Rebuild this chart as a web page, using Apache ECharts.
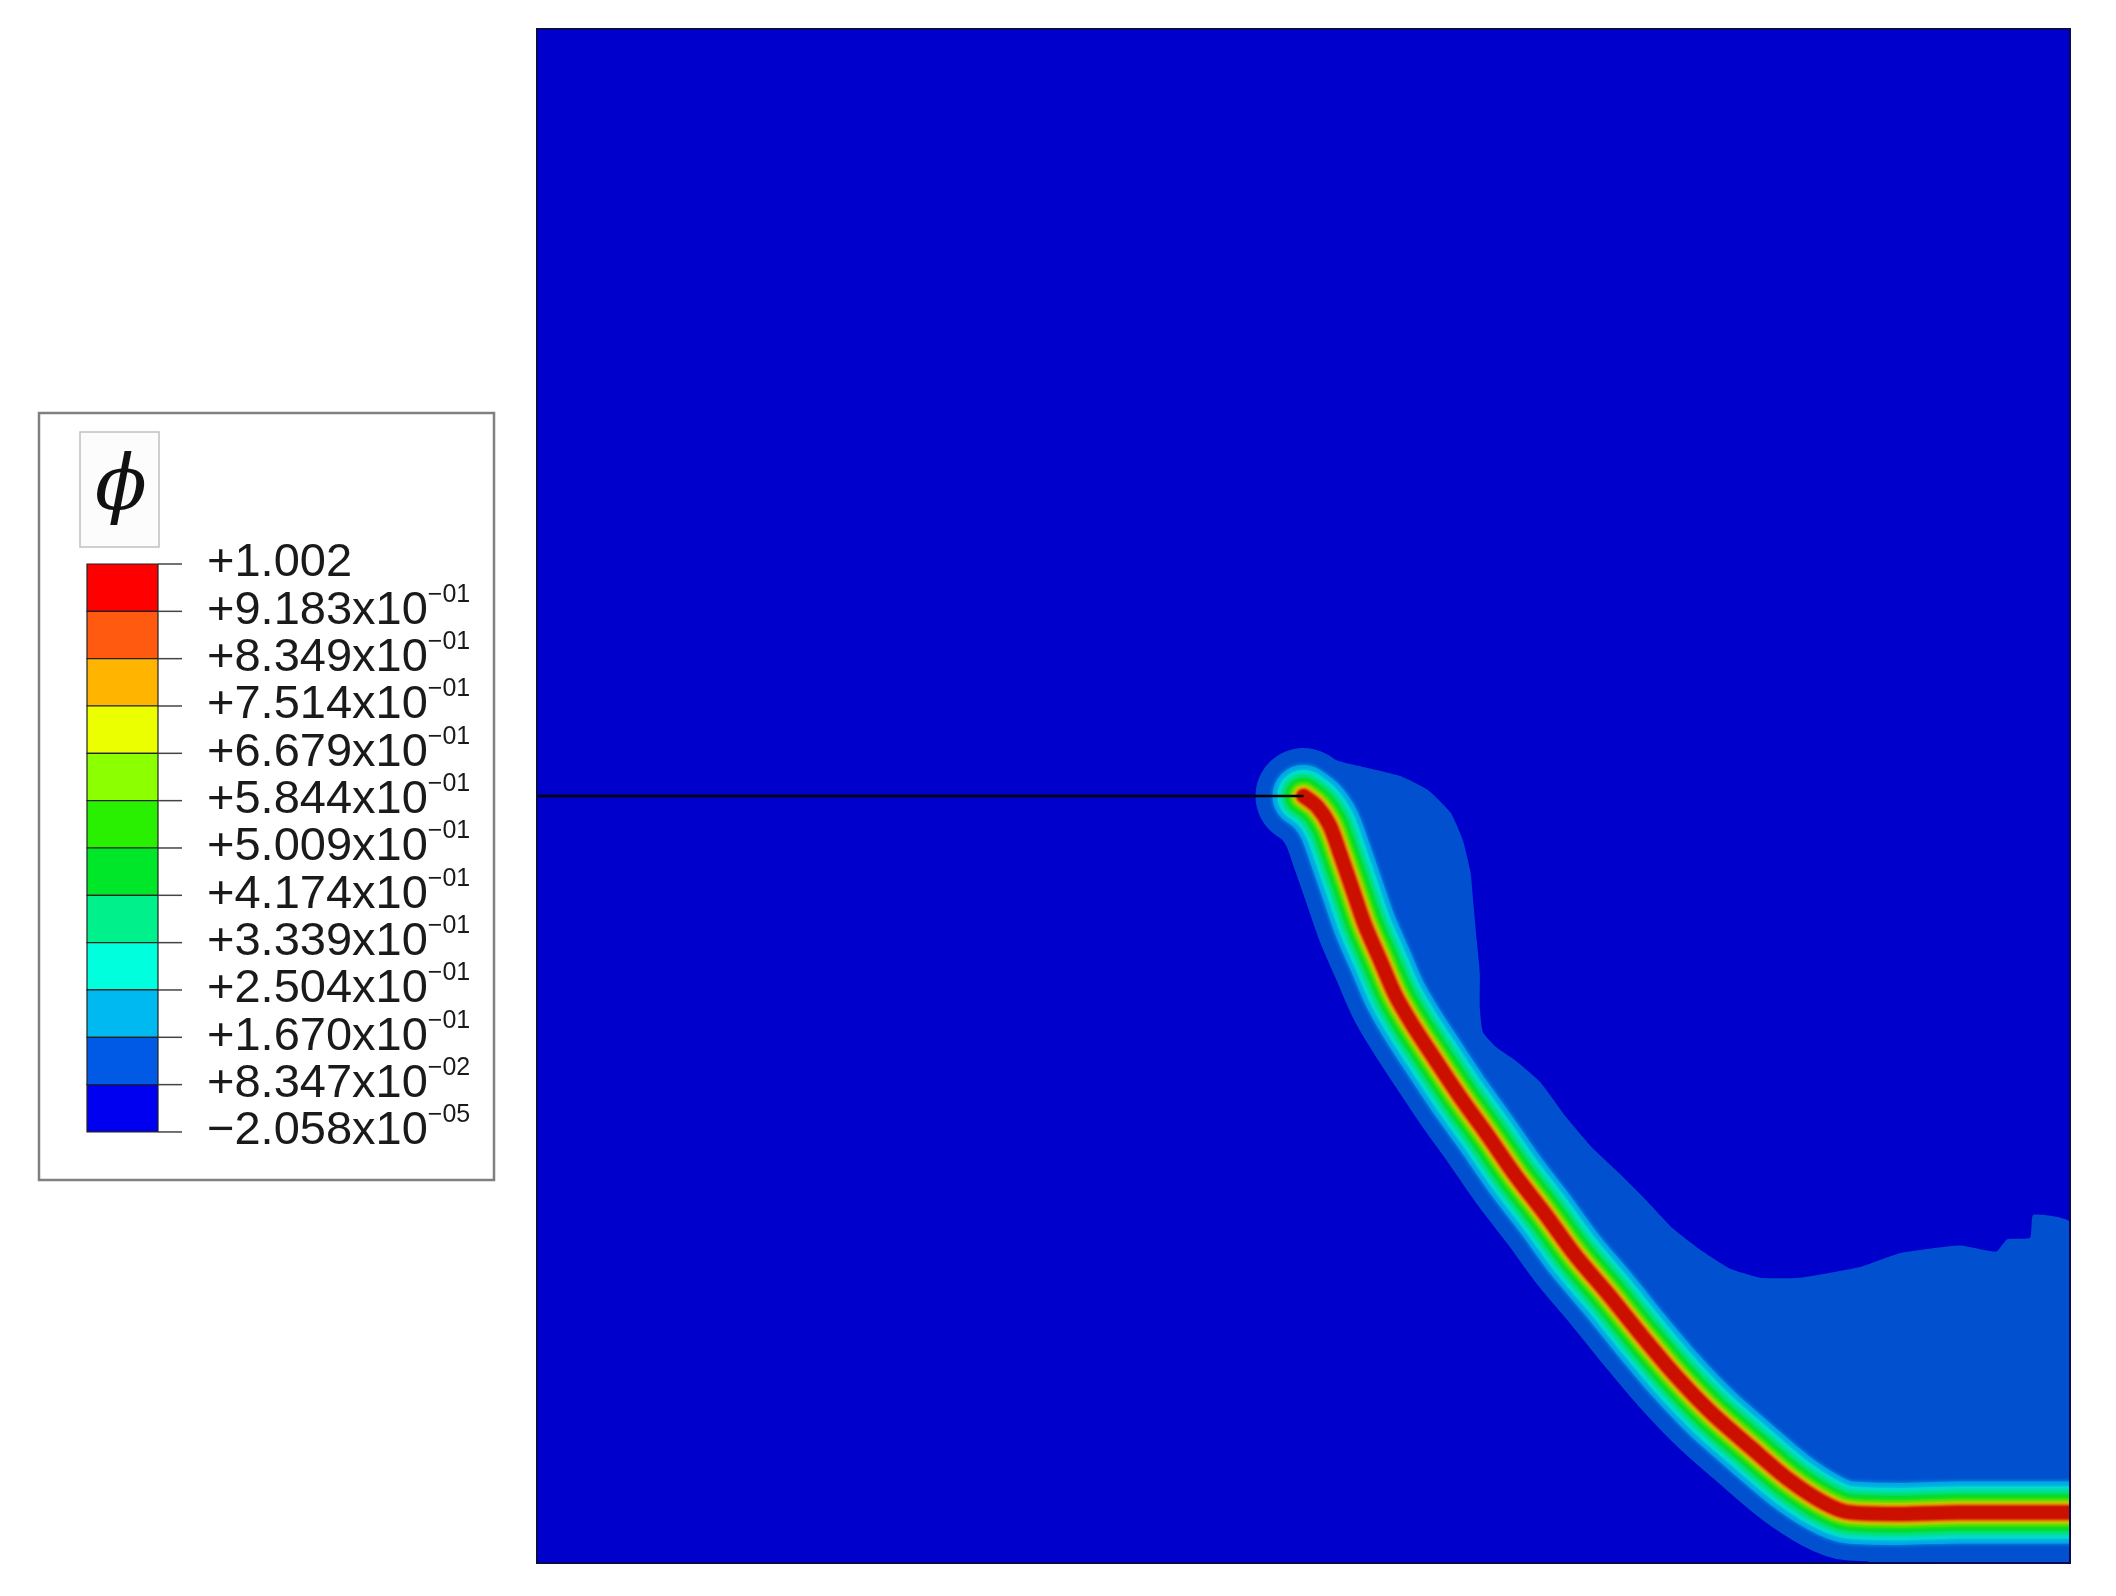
<!DOCTYPE html>
<html>
<head>
<meta charset="utf-8">
<script src="https://cdn.jsdelivr.net/npm/echarts@6/dist/echarts.min.js"></script>
<style>
html,body{margin:0;padding:0;background:#fff;}
#main_charts{width:2116px;height:1596px;}
</style>
</head>
<body>
<div id="main_charts"></div>
<script>
// crack centre line (specimen coords, 0..100)
var crackX = [50.0, 50.9, 51.7, 52.4, 53.2, 54.0, 55.0, 56.0, 57.1, 58.6, 60.2, 62.0, 63.8, 65.8, 67.7, 69.9, 72.0, 74.2, 76.6, 79.1, 81.7, 84.0, 85.6, 88.9, 92.8, 100];
var crackY = [50.0, 49.3, 48.1, 46.2, 43.9, 41.6, 39.3, 37.0, 35.1, 32.8, 30.4, 27.9, 25.3, 22.7, 20.1, 17.5, 14.9, 12.3, 9.8, 7.6, 5.4, 3.9, 3.3, 3.2, 3.3, 3.3];
// initial notch
var notchX = [0, 50.0];
var notchY = [50.0, 50.0];
// outline of the low-damage zone (phi ~ 0.08) above the crack
var zoneX = [49.8, 51.5, 53.0, 56.3, 58.1, 59.6, 60.4, 60.9, 61.1, 61.3, 61.5, 61.5, 61.7, 62.6, 63.9, 65.4, 67.1, 68.8, 70.6, 72.3, 74.1, 75.9, 77.8, 79.8, 82.4, 86.3, 88.9, 92.8, 95.2, 95.9, 97.4, 97.6, 100, 100, 87.0];
var zoneY = [52.9, 52.5, 52.1, 51.3, 50.4, 48.9, 47.1, 45.0, 42.8, 40.6, 38.5, 36.2, 34.6, 33.6, 32.7, 31.4, 29.1, 27.1, 25.4, 23.7, 21.8, 20.4, 19.2, 18.6, 18.6, 19.3, 20.2, 20.7, 20.3, 21.1, 21.2, 22.7, 22.2, 0, 0];
// colour bar
var legendMantissa = ['+1.002', '+9.183', '+8.349', '+7.514', '+6.679', '+5.844', '+5.009', '+4.174', '+3.339', '+2.504', '+1.670', '+8.347', '\u22122.058'];
var legendExponent = ['', '\u221201', '\u221201', '\u221201', '\u221201', '\u221201', '\u221201', '\u221201', '\u221201', '\u221201', '\u221201', '\u221202', '\u221205'];

// styles
var barColors = ['#FF0000', '#FF5A10', '#FFB400', '#EBFF00', '#8CFF00', '#28F000', '#00E628', '#00F08C', '#00FFDC', '#00B9F0', '#005AE6', '#0000F0'];
var plotColors = ['#CC1000', '#E05000', '#E6A000', '#DCE000', '#96E000', '#3CE000', '#00DC32', '#00E08C', '#00DCD2', '#00A6E6', '#0050D0', '#0000CC'];
var bandWidths = [12, 14, 16, 18, 22, 28, 36, 44, 52, 62, 96];

var myChart = echarts.init(document.getElementById('main_charts'));

var path = crackX.map(function (x, i) { return [x, crackY[i]]; });
var zone = zoneX.map(function (x, i) { return [x, zoneY[i]]; });
// close the zone back along the crack
for (var i = path.length - 1; i >= 0; i--) {
  if (path[i][0] <= 86) zone.push(path[i]);
}
var notch = notchX.map(function (x, i) { return [x, notchY[i]]; });

var series = [];
series.push({
  type: 'custom',
  silent: true,
  clip: true,
  z: 1,
  data: [[0, 0]],
  renderItem: function (params, api) {
    var pts = zone.map(function (p) { return api.coord(p); });
    return { type: 'polygon', shape: { points: pts, smooth: 0.15 }, style: { fill: plotColors[10] } };
  }
});
// bands, widest first
for (var k = bandWidths.length - 1; k >= 0; k--) {
  var col = plotColors[10 - (bandWidths.length - 1 - k)];
  series.push({
    type: 'line',
    data: path,
    smooth: 0.3,
    symbol: 'none',
    silent: true,
    clip: true,
    z: 2 + (bandWidths.length - k),
    lineStyle: { width: bandWidths[k], color: col, cap: 'round', join: 'round', shadowBlur: k < 10 ? 4 : 0, shadowColor: col }
  });
}
series.push({
  type: 'line',
  data: notch,
  symbol: 'none',
  silent: true,
  z: 30,
  lineStyle: { width: 2.5, color: '#000' }
});

// legend (drawn as graphic)
var gx = 87, gy = 564, gw = 71, gh = 47.33;
var graphics = [
  { type: 'rect', shape: { x: 39, y: 413, width: 455, height: 767 }, style: { fill: '#fff', stroke: '#808080', lineWidth: 2.5 } },
  { type: 'rect', shape: { x: 80, y: 432, width: 79, height: 115 }, style: { fill: '#fcfcfc', stroke: '#c0c0c0', lineWidth: 1.5 } },
  { type: 'text', x: 121, y: 489, style: { text: '\u03D5', font: 'italic 76px "DejaVu Serif"', fill: '#111', align: 'center', verticalAlign: 'middle' } },
  // keep the wide bands inside the specimen
  { type: 'rect', z: 100, shape: { x: 2071, y: 0, width: 60, height: 1596 }, style: { fill: '#fff' } },
  { type: 'rect', z: 100, shape: { x: 0, y: 1564, width: 2116, height: 40 }, style: { fill: '#fff' } },
  { type: 'rect', z: 101, shape: { x: 537, y: 29, width: 1533, height: 1534 }, style: { fill: 'none', stroke: '#0a0a50', lineWidth: 2 } }
];
for (var b = 0; b < barColors.length; b++) {
  graphics.push({ type: 'rect', shape: { x: gx, y: gy + b * gh, width: gw, height: gh }, style: { fill: barColors[b], stroke: '#222', lineWidth: 1.2 } });
}
for (var t = 0; t < legendMantissa.length; t++) {
  var ty = gy + t * gh;
  graphics.push({ type: 'line', shape: { x1: gx + gw, y1: ty, x2: gx + gw + 24, y2: ty }, style: { stroke: '#444', lineWidth: 1.5 } });
  var txt = legendExponent[t] ? '{m|' + legendMantissa[t] + 'x10}{e|' + legendExponent[t] + '}' : '{m|' + legendMantissa[t] + '}';
  graphics.push({
    type: 'text', x: 207, y: ty - 3,
    style: {
      text: txt, verticalAlign: 'middle', align: 'left',
      rich: {
        m: { fontSize: 47, fontFamily: 'Liberation Sans', fill: '#1a1a1a', lineHeight: 52, verticalAlign: 'bottom' },
        e: { fontSize: 25, fontFamily: 'Liberation Sans', fill: '#1a1a1a', lineHeight: 24, verticalAlign: 'top' }
      }
    }
  });
}

var option = {
  animation: false,
  backgroundColor: '#fff',
  grid: { left: 537, top: 29, width: 1533, height: 1534, show: true, backgroundColor: plotColors[11], borderColor: '#0a0a50', borderWidth: 2 },
  xAxis: { type: 'value', min: 0, max: 100, show: false },
  yAxis: { type: 'value', min: 0, max: 100, show: false },
  graphic: graphics,
  series: series
};
myChart.setOption(option);
</script>
</body>
</html>
